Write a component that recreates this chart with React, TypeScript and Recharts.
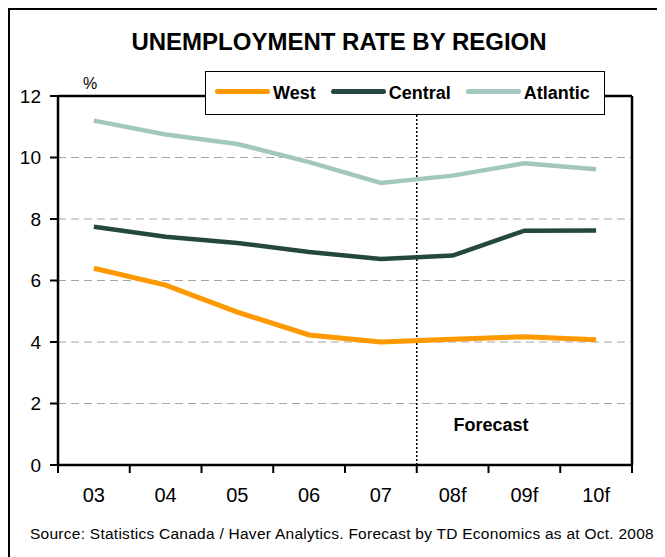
import React from "react";
import {
  LineChart,
  Line,
  XAxis,
  YAxis,
  CartesianGrid,
  ReferenceLine,
  Legend,
} from "recharts";

// years, "f" = forecast
const categories = ["03", "04", "05", "06", "07", "08f", "09f", "10f"];
const west = [6.4, 5.85, 4.97, 4.23, 4.0, 4.09, 4.17, 4.07];
const central = [7.75, 7.42, 7.22, 6.93, 6.7, 6.81, 7.62, 7.63];
const atlantic = [11.2, 10.75, 10.44, 9.85, 9.17, 9.41, 9.81, 9.62];
const seriesNames = ["West", "Central", "Atlantic"];
const yTicks = [0, 2, 4, 6, 8, 10, 12];
const forecastStart = 5; // boundary between 07 and 08f

const COLORS = {
  west: "#FF9900",
  central: "#244740",
  atlantic: "#A3C6BE",
  grid: "#A6A6A6",
};

const FONT = '"Liberation Sans", Arial, sans-serif';
const W = 657;
const H = 549;
const MARGIN = { top: 88, right: 33, left: 10, bottom: 62 };
const Y_AXIS_W = 40;
const PLOT_W = W - MARGIN.left - MARGIN.right - Y_AXIS_W;
const BAND = PLOT_W / categories.length;

const data = categories.map((c, i) => ({
  x: i + 0.5,
  name: c,
  West: west[i],
  Central: central[i],
  Atlantic: atlantic[i],
}));
const xTicks = categories.map((_, i) => i).concat(categories.length);

// labels sit in the middle of each band, tick marks on the band edges
const XTick = (props: any) => {
  const { x, y, payload } = props;
  const i = payload.value;
  if (i >= categories.length) return <g />;
  return (
    <text
      x={x + BAND / 2}
      y={y}
      dy={27}
      textAnchor="middle"
      fill="#000"
      fontSize={20}
      fontFamily={FONT}
    >
      {categories[i]}
    </text>
  );
};

const renderLegend = (props: any) => {
  const payload = [...(props.payload || [])].sort(
    (a: any, b: any) => seriesNames.indexOf(a.value) - seriesNames.indexOf(b.value)
  );
  return (
    <div
      style={{
        display: "flex",
        alignItems: "center",
        height: 44,
        width: 400,
        boxSizing: "border-box",
        border: "1px solid #000",
        background: "#fff",
        paddingLeft: 9,
        gap: 15,
      }}
    >
      {payload.map((entry: any) => (
        <div key={entry.value} style={{ display: "flex", alignItems: "center" }}>
          <span
            style={{
              display: "inline-block",
              width: 55,
              height: 5,
              borderRadius: 3,
              background: entry.color,
              marginRight: 3,
              position: "relative",
              top: -2,
            }}
          />
          <span style={{ fontWeight: "bold", fontSize: 18, fontFamily: FONT }}>
            {entry.value}
          </span>
        </div>
      ))}
    </div>
  );
};

export default function App() {
  return (
    <div
      style={{
        position: "relative",
        width: W,
        height: H,
        overflow: "hidden",
        fontFamily: FONT,
        background: "#fff",
      }}
    >
      <div
        style={{
          position: "absolute",
          left: 0,
          top: 0,
          width: 720,
          height: 620,
          border: "2.5px solid #000",
          boxSizing: "border-box",
        }}
      />
      <div
        style={{
          position: "absolute",
          left: 0,
          width: 662,
          top: 22,
          textAlign: "center",
          fontSize: 24,
          lineHeight: "24px",
          fontWeight: "bold",
        }}
      >
        UNEMPLOYMENT RATE BY REGION
      </div>
      <LineChart
        width={W}
        height={H}
        data={data}
        margin={MARGIN}
        style={{ position: "absolute", left: 0, top: 0 }}
      >
        <CartesianGrid
          vertical={false}
          stroke={COLORS.grid}
          strokeDasharray="8 5"
        />
        <XAxis
          dataKey="x"
          type="number"
          domain={[0, categories.length]}
          ticks={xTicks}
          interval={0}
          height={30}
          tick={<XTick />}
          tickSize={8}
          tickMargin={2}
          axisLine={{ stroke: "#000", strokeWidth: 2.5 }}
          tickLine={{ stroke: "#000", strokeWidth: 2 }}
        />
        <YAxis
          domain={[0, 12]}
          ticks={yTicks}
          interval={0}
          width={Y_AXIS_W}
          tickSize={8}
          tickMargin={9}
          tick={{ fill: "#000", fontSize: 19, fontFamily: FONT }}
          axisLine={{ stroke: "#000", strokeWidth: 2.5 }}
          tickLine={{ stroke: "#000", strokeWidth: 2 }}
        />
        {/* plot frame top + right */}
        <ReferenceLine y={12} stroke="#000" strokeWidth={2.5} />
        <ReferenceLine x={categories.length} stroke="#000" strokeWidth={2.5} />
        <ReferenceLine
          x={forecastStart}
          stroke="#000"
          strokeWidth={1.5}
          strokeDasharray="2 2"
        />
        <Line
          dataKey="West"
          stroke={COLORS.west}
          strokeWidth={5}
          dot={false}
          type="linear"
          isAnimationActive={false}
        />
        <Line
          dataKey="Central"
          stroke={COLORS.central}
          strokeWidth={4.5}
          dot={false}
          type="linear"
          isAnimationActive={false}
        />
        <Line
          dataKey="Atlantic"
          stroke={COLORS.atlantic}
          strokeWidth={4.5}
          dot={false}
          type="linear"
          isAnimationActive={false}
        />
        <Legend
          content={renderLegend}
          layout="horizontal"
          align="center"
          verticalAlign="middle"
          wrapperStyle={{
            position: "absolute",
            left: 197,
            top: 63,
            right: "auto",
            bottom: "auto",
            width: 400,
            height: 44,
          }}
        />
      </LineChart>
      <div
        style={{
          position: "absolute",
          left: 75,
          top: 68,
          width: 12,
          textAlign: "center",
          fontSize: 16,
          lineHeight: "16px",
        }}
      >
        %
      </div>
      <div
        style={{
          position: "absolute",
          left: 433,
          width: 100,
          top: 408,
          textAlign: "center",
          fontSize: 18,
          lineHeight: "18px",
          fontWeight: "bold",
        }}
      >
        Forecast
      </div>
      <div
        style={{
          position: "absolute",
          left: 22,
          top: 518,
          fontSize: 15.5,
          lineHeight: "15.5px",
          letterSpacing: 0.26,
          whiteSpace: "nowrap",
        }}
      >
        Source: Statistics Canada / Haver Analytics. Forecast by TD Economics as
        at Oct. 2008
      </div>
    </div>
  );
}
